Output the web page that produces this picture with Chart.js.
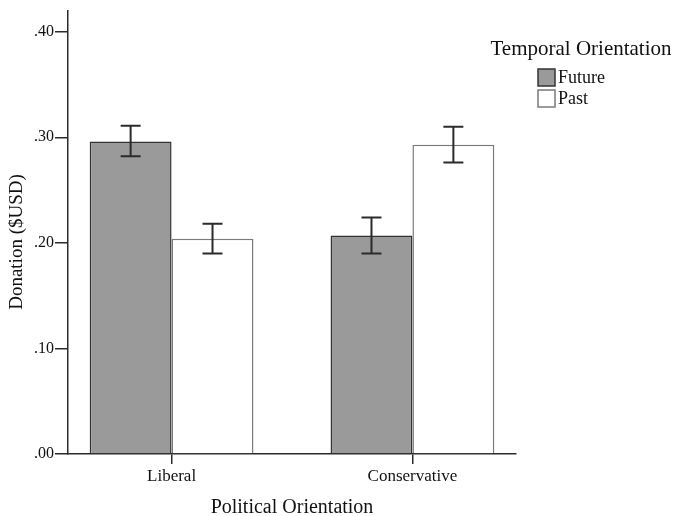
<!DOCTYPE html>
<html>
<head>
<meta charset="utf-8">
<title>Donation by political and temporal orientation</title>
<script src="https://cdn.jsdelivr.net/npm/chart.js@4/dist/chart.umd.min.js"></script>
<style>
  body { margin: 0; background: #fff; }
  canvas { display: block; }
</style>
</head>
<body>
<canvas id="chart" width="677" height="516"></canvas>
<script>
// Data
const categories = ["Liberal", "Conservative"];
const seriesNames = ["Future", "Past"];
const futureValues = [0.296, 0.207];
const pastValues = [0.204, 0.293];
const futureLow = [0.282, 0.190];
const futureHigh = [0.311, 0.224];
const pastLow = [0.190, 0.276];
const pastHigh = [0.218, 0.310];
const yTicks = [0, 0.1, 0.2, 0.3, 0.4];

const serif = "'Liberation Serif', 'DejaVu Serif', serif";
const ink = "#2b2b2b";

// Error bars drawn on top of each bar
const errorBars = {
  id: "errorBars",
  afterDatasetsDraw(chart) {
    const ctx = chart.ctx;
    const y = chart.scales.y;
    chart.data.datasets.forEach((ds, i) => {
      const meta = chart.getDatasetMeta(i);
      meta.data.forEach((bar, j) => {
        const top = y.getPixelForValue(ds.errHigh[j]);
        const bottom = y.getPixelForValue(ds.errLow[j]);
        const x = bar.x;
        ctx.save();
        ctx.strokeStyle = ink;
        ctx.lineWidth = 2;
        ctx.beginPath();
        ctx.moveTo(x, top); ctx.lineTo(x, bottom);
        ctx.moveTo(x - 10, top); ctx.lineTo(x + 10, top);
        ctx.moveTo(x - 10, bottom); ctx.lineTo(x + 10, bottom);
        ctx.stroke();
        ctx.restore();
      });
    });
  }
};

// Legend in the SPSS style to the right, plus the y title placed a bit low like the original
const sideLegend = {
  id: "sideLegend",
  afterDraw(chart) {
    const ctx = chart.ctx;
    ctx.save();
    ctx.fillStyle = "#111";
    ctx.font = "21px " + serif;
    ctx.textAlign = "center";
    ctx.textBaseline = "middle";
    ctx.fillText("Temporal Orientation", 581, 49);

    ctx.save();
    ctx.font = "19px " + serif;
    ctx.translate(17, 242);
    ctx.rotate(-Math.PI / 2);
    ctx.fillText("Donation ($USD)", 0, 0);
    ctx.restore();

    ctx.textAlign = "left";
    ctx.font = "18px " + serif;
    chart.data.datasets.forEach((ds, i) => {
      const top = 69 + i * 21;
      ctx.fillStyle = ds.backgroundColor;
      ctx.fillRect(538, top, 17, 17);
      ctx.strokeStyle = ds.borderColor;
      ctx.lineWidth = 1.5;
      ctx.strokeRect(538, top, 17, 17);
      ctx.fillStyle = "#111";
      ctx.fillText(ds.label, 558, top + 9);
    });
    ctx.restore();
  }
};

new Chart(document.getElementById("chart"), {
  type: "bar",
  data: {
    datasets: [
      {
        label: seriesNames[0],
        data: futureValues.map((v, i) => ({ x: i, y: v })),
        errLow: futureLow,
        errHigh: futureHigh,
        backgroundColor: "#9a9a9a",
        borderColor: "#333333",
        borderWidth: 1.5
      },
      {
        label: seriesNames[1],
        data: pastValues.map((v, i) => ({ x: i, y: v })),
        errLow: pastLow,
        errHigh: pastHigh,
        backgroundColor: "#ffffff",
        borderColor: "#7a7a7a",
        borderWidth: 1.5
      }
    ]
  },
  options: {
    responsive: false,
    animation: false,
    categoryPercentage: 0.68,
    barPercentage: 1,
    layout: { padding: { top: 2, right: 161, left: 0, bottom: 0 } },
    plugins: {
      legend: { display: false },
      tooltip: { enabled: false }
    },
    scales: {
      x: {
        type: "linear",
        min: -0.43,
        max: 1.43,
        offset: false,
        afterBuildTicks(scale) {
          scale.ticks = categories.map((c, i) => ({ value: i }));
        },
        afterFit(scale) { scale.height = 62; },
        ticks: {
          color: "#111",
          font: { family: serif, size: 17 },
          padding: 2,
          callback: (v) => categories[v]
        },
        grid: { offset: false, drawOnChartArea: false, tickLength: 10, color: ink, lineWidth: 1.5 },
        border: { color: ink, width: 1.5 },
        title: {
          display: true,
          text: "Political Orientation",
          color: "#111",
          font: { family: serif, size: 20, lineHeight: 0.8 },
          padding: { top: 0, bottom: 0 }
        }
      },
      y: {
        min: 0,
        max: 0.42,
        afterBuildTicks(scale) {
          scale.ticks = yTicks.map((v) => ({ value: v }));
        },
        afterFit(scale) { scale.width = 68; },
        ticks: {
          color: "#111",
          font: { family: serif, size: 16 },
          padding: 1,
          callback: (v) => v.toFixed(2).replace(/^0/, "")
        },
        grid: { drawOnChartArea: false, tickLength: 13, color: ink, lineWidth: 1.5 },
        border: { color: ink, width: 1.5 },
        title: { display: false }
      }
    }
  },
  plugins: [errorBars, sideLegend]
});
</script>
</body>
</html>
